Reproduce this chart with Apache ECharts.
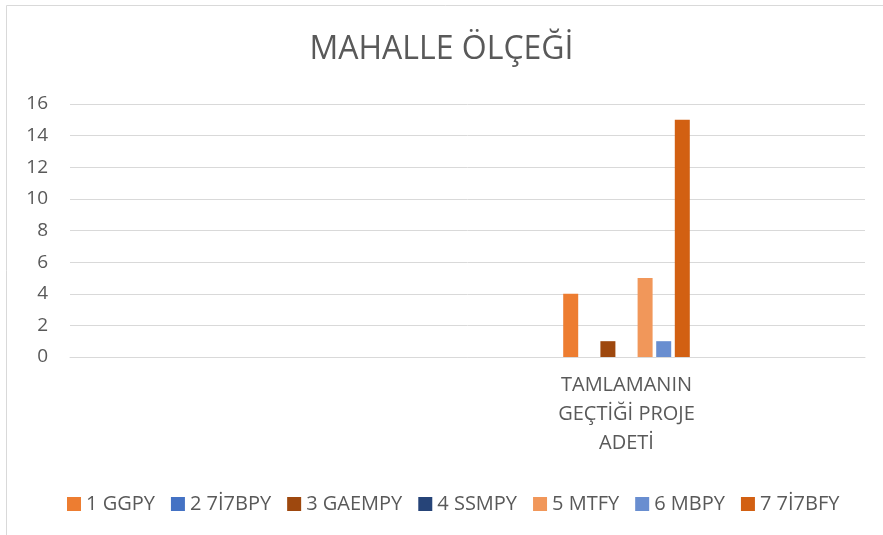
<!DOCTYPE html>
<html>
<head>
<meta charset="utf-8">
<script src="https://cdn.jsdelivr.net/npm/echarts@6/dist/echarts.min.js"></script>
<style>
    html,body{margin:0;padding:0;background:#fff;}
    #chart{width:883px;height:535px;}
</style>
</head>
<body>
<div id="chart"></div>
<script>
// kategoriler: sadece 4. kategori dolu
let categories = ['', '', '', 'TAMLAMANIN\nGEÇTİĞİ PROJE\nADETİ', ''];
let seriesNames = ['1 GGPY', '2 7İ7BPY', '3 GAEMPY', '4 SSMPY', '5 MTFY', '6 MBPY', '7 7İ7BFY'];
let ggpy    = [null, null, null, 4, null];
let bpy7    = [null, null, null, 0, null];
let gaempy  = [null, null, null, 1, null];
let ssmpy   = [null, null, null, 0, null];
let mtfy    = [null, null, null, 5, null];
let mbpy    = [null, null, null, 1, null];
let bfy7    = [null, null, null, 15, null];
let yTicks  = [0, 16, 2]; // min, max, interval

let seriesData = [ggpy, bpy7, gaempy, ssmpy, mtfy, mbpy, bfy7];
let colors = ['#ED7D31', '#4472C4', '#9E480E', '#264478', '#F1975A', '#698ED0', '#D26012'];
let fontName = '"Open Sans", "Noto Sans", sans-serif';

function initChart(){
    let myChart = echarts.init(document.getElementById('chart'));
    let series = [];
    for (let i = 0; i < seriesNames.length; i++){
        series.push({
            name: seriesNames[i],
            type: 'bar',
            data: seriesData[i],
            barWidth: 15,
            barGap: '24%',
            itemStyle: {color: colors[i]}
        });
    }
    let option = {
        animation: false,
        color: colors,
        title: {
            text: 'MAHALLE ÖLÇEĞİ',
            left: 'center',
            top: 29,
            textStyle: {
                fontFamily: fontName,
                fontSize: 32,
                fontWeight: 'normal',
                color: '#595959'
            }
        },
        graphic: [{
            type: 'rect',
            shape: {x: 6.5, y: 5.5, width: 1000, height: 1000},
            style: {fill: 'none', stroke: '#d9d9d9', lineWidth: 1},
            silent: true
        }],
        grid: {
            left: 70,
            right: 18,
            top: 104,
            bottom: 178
        },
        legend: {
            data: seriesNames,
            left: 62,
            top: 489,
            itemWidth: 14,
            itemHeight: 14,
            itemGap: 16,
            icon: 'rect',
            textStyle: {
                fontFamily: fontName,
                fontSize: 20,
                color: '#595959'
            }
        },
        xAxis: {
            type: 'category',
            data: categories,
            axisTick: {show: false},
            axisLine: {lineStyle: {color: '#d9d9d9', width: 1}},
            axisLabel: {
                interval: 0,
                margin: 14,
                fontFamily: fontName,
                fontSize: 20,
                lineHeight: 29,
                color: '#595959'
            }
        },
        yAxis: {
            type: 'value',
            min: yTicks[0],
            max: yTicks[1],
            interval: yTicks[2],
            axisLine: {show: false},
            axisTick: {show: false},
            splitLine: {lineStyle: {color: '#d9d9d9', width: 1}},
            axisLabel: {
                margin: 22,
                fontFamily: fontName,
                fontSize: 19,
                color: '#595959'
            }
        },
        series: series
    };
    myChart.setOption(option);
    return myChart;
}

initChart();
</script>
</body>
</html>
